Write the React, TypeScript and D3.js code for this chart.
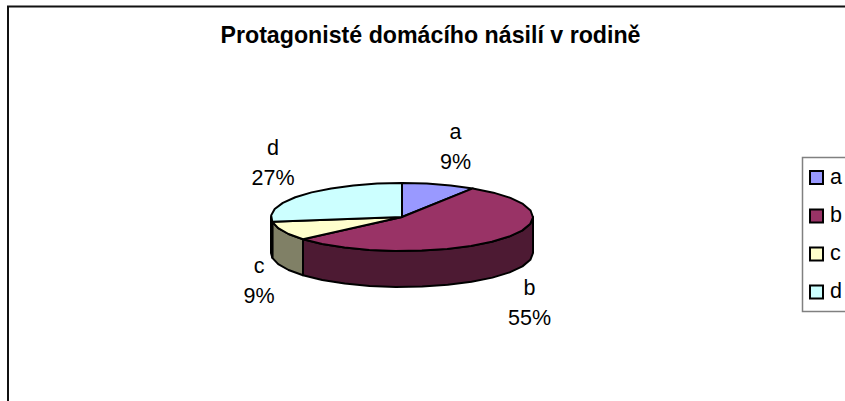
import React from "react";
import * as d3 from "d3";

const categories = ["a", "b", "c", "d"];
const counts = [1, 6, 1, 3];
const percentLabels = ["9%", "55%", "9%", "27%"];
const topColors = ["#9999ff", "#993366", "#ffffcc", "#ccffff"];
const sideColors = ["#4d4d80", "#4d1a33", "#808066", "#668080"];
const title = "Protagonisté domácího násilí v rodině";

const font = "'Liberation Sans', Arial, sans-serif";
const cx = 402, cy = 217, rx = 131, ry = 34, depth = 36;

const xScale = d3.scaleLinear().domain([-1, 1]).range([cx - rx, cx + rx]);
const yScale = d3.scaleLinear().domain([-1, 1]).range([cy - ry, cy + ry]);
const lineGen = d3.line<[number, number]>().x((d) => d[0]).y((d) => d[1]);

const rim = (a: number, dz = 0): [number, number] => [xScale(Math.sin(a)), yScale(-Math.cos(a)) + dz];
const STEP = Math.PI / 16;
const sample = (a0: number, a1: number): number[] => {
  const n = Math.max(1, Math.round((a1 - a0) / STEP));
  return d3.range(n + 1).map((i) => a0 + ((a1 - a0) * i) / n);
};

const labelPos = [
  { x: 455.5, y: 139, y2: 169 },
  { x: 529.5, y: 295, y2: 325 },
  { x: 259, y: 273, y2: 303 },
  { x: 273, y: 155, y2: 185 },
];
const legendRows = [177.5, 216, 254, 292];
const legendBaselines = [183.5, 221.5, 259.5, 298];

export default function App() {
  const arcs = d3.pie<number>().sort(null)(counts);
  const top = arcs.map((a) =>
    lineGen([[cx, cy], ...sample(a.startAngle, a.endAngle).map((t) => rim(t))]) + "Z"
  );
  const side = (a0: number, a1: number) => {
    const pts = sample(a0, a1);
    return lineGen([...pts.map((t) => rim(t)), ...pts.slice().reverse().map((t) => rim(t, depth))]) + "Z";
  };
  const from = Math.PI / 2;
  const to = (3 * Math.PI) / 2;
  return (
    <svg width={845} height={401} style={{ position: "fixed", left: 0, top: 0, background: "#fff" }}>
      <path d="M8,401V6.5H845" fill="none" stroke="#111" strokeWidth={2} />
      <text x={430.5} y={43.3} textAnchor="middle" fontFamily={font} fontWeight="bold" fontSize={23.2} fill="#000">{title}</text>
      {arcs.map((a, i) => {
        const s = Math.max(a.startAngle, from), e = Math.min(a.endAngle, to);
        return e > s ? <path key={i} d={side(s, e)} fill={sideColors[i]} stroke="#000" strokeWidth={2} strokeLinejoin="round" /> : null;
      })}
      {top.map((d, i) => (
        <path key={i} d={d} fill={topColors[i]} stroke="#000" strokeWidth={2} strokeLinejoin="round" />
      ))}
      {categories.map((c, i) => (
        <g key={c} fontFamily={font} fontSize={21.5} textAnchor="middle" fill="#000">
          <text x={labelPos[i].x} y={labelPos[i].y}>{c}</text>
          <text x={labelPos[i].x} y={labelPos[i].y2}>{percentLabels[i]}</text>
        </g>
      ))}
      <rect x={802.5} y={157.5} width={60} height={154} fill="#fff" stroke="#808080" strokeWidth={1.5} />
      {categories.map((c, i) => (
        <g key={c}>
          <rect x={810} y={legendRows[i] - 6.5} width={13} height={13} fill={topColors[i]} stroke="#000" strokeWidth={2} />
          <text x={830} y={legendBaselines[i]} fontFamily={font} fontSize={21.5} fill="#000">{c}</text>
        </g>
      ))}
    </svg>
  );
}
